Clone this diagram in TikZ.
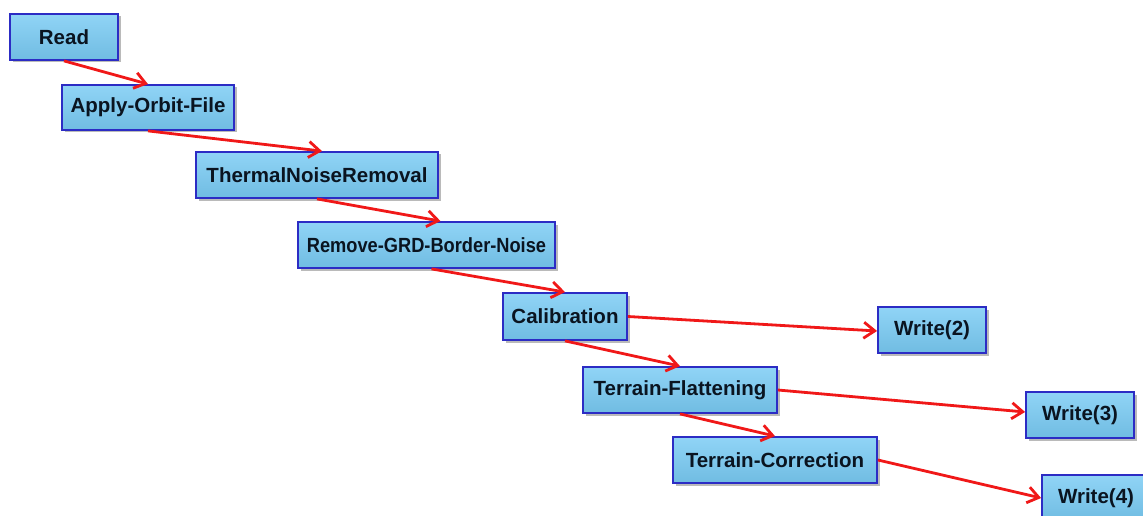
\documentclass[tikz,border=0pt]{standalone}
\usepackage{fontspec}
\usepackage{graphicx}
\setmainfont{Liberation Sans}
\usetikzlibrary{arrows.meta,shadows}
\definecolor{boxtop}{HTML}{90D4F6}
\definecolor{boxbot}{HTML}{70BCE2}
\definecolor{boxline}{HTML}{2C2CC4}
\definecolor{arr}{HTML}{F01818}
\definecolor{txt}{HTML}{0A1420}
\tikzset{
  opbox/.style={draw=boxline, line width=1.8pt, top color=boxtop, bottom color=boxbot,
    inner sep=0pt, font=\fontsize{20.5}{22}\selectfont\bfseries, text=txt,
    drop shadow={shadow xshift=2.5pt, shadow yshift=-2.5pt, fill=black!45, opacity=0.6}},
  flow/.style={draw=arr, line width=2.8pt, -{Straight Barb[length=11pt, width=16pt, line width=2.8pt]}}
}
\begin{document}
\begin{tikzpicture}[x=1pt, y=-1pt]
\useasboundingbox (0,0) rectangle (1143,516);
\clip (0,0) rectangle (1143,516);
\node[opbox, minimum width=108pt, minimum height=46pt] (read) at (64,37) {Read};
\node[opbox, minimum width=172pt, minimum height=45pt] (orbit) at (148,107.5) {Apply-Orbit-File};
\node[opbox, minimum width=242pt, minimum height=46pt] (thermal) at (317,175) {ThermalNoiseRemoval};
\node[opbox, minimum width=257pt, minimum height=46pt] (border) at (426.5,245) {\scalebox{0.89}[1]{Remove-GRD-Border-Noise}};
\node[opbox, minimum width=124pt, minimum height=47pt] (calib) at (565,316.5) {Calibration};
\node[opbox, minimum width=108pt, minimum height=46pt] (w2) at (932,330) {Write(2)};
\node[opbox, minimum width=194pt, minimum height=46pt] (tf) at (680,390) {Terrain-Flattening};
\node[opbox, minimum width=108pt, minimum height=46pt] (w3) at (1080,415) {Write(3)};
\node[opbox, minimum width=204pt, minimum height=46pt] (tc) at (775,460) {Terrain-Correction};
\node[opbox, minimum width=108pt, minimum height=46pt] (w4) at (1096,498) {Write(4)};
\draw[flow] (read.south) -- (orbit.north);
\draw[flow] (orbit.south) -- ([xshift=5pt]thermal.north);
\draw[flow] (thermal.south) -- ([xshift=14pt]border.north);
\draw[flow] ([xshift=5pt]border.south) -- (calib.north);
\draw[flow] (calib.east) -- ([yshift=-1pt]w2.west);
\draw[flow] (calib.south) -- (tf.north);
\draw[flow] (tf.east) -- ([yshift=3pt]w3.west);
\draw[flow] (tf.south) -- (tc.north);
\draw[flow] (tc.east) -- (w4.west);
\end{tikzpicture}
\end{document}
